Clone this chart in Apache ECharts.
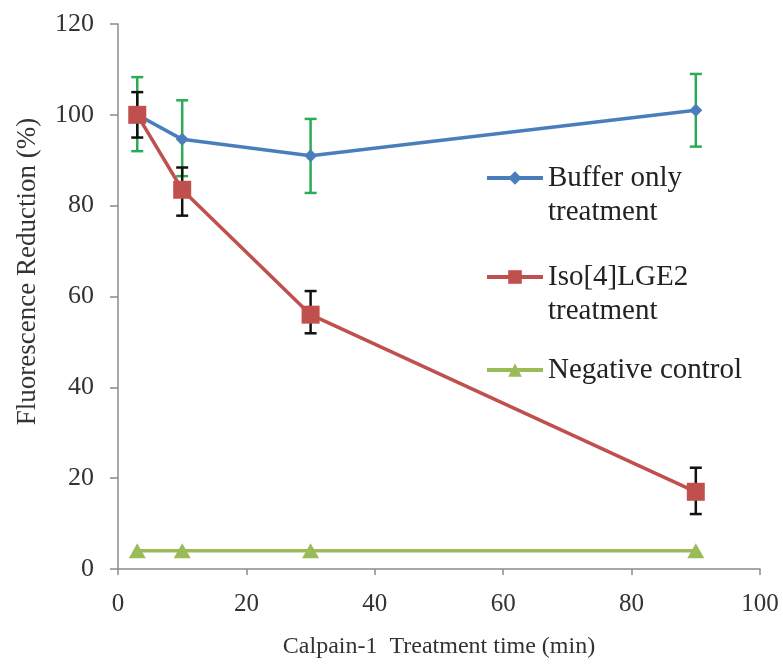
<!DOCTYPE html>
<html><head><meta charset="utf-8">
<script src="https://cdn.jsdelivr.net/npm/echarts@6/dist/echarts.min.js"></script>
<style>html,body{margin:0;padding:0;background:#fff}#c{width:783px;height:664px}</style>
</head><body><div id="c"></div>
<script>
var times = [3, 10, 30, 90];
var bufferVals = [100, 94.6, 91, 101];
var bufferLow = [92, 86.5, 82.8, 93];
var bufferHigh = [108.3, 103.2, 99.1, 109];
var isoVals = [100, 83.5, 56, 17];
var isoLow = [95, 77.8, 51.9, 12.1];
var isoHigh = [105, 88.4, 61.2, 22.3];
var negVals = [4, 4, 4, 4];
var xTicks = [0, 20, 40, 60, 80, 100];
var yTicks = [0, 20, 40, 60, 80, 100, 120];
var names = ['Buffer only treatment', 'Iso[4]LGE2 treatment', 'Negative control'];

function pairs(xs, ys){ return xs.map(function(x,i){return [x, ys[i]];}); }
function errData(xs, lo, hi){ return xs.map(function(x,i){return [x, lo[i], hi[i]];}); }
function errSeries(data, color, z){
  return {
    type:'custom', z:z, silent:true,
    data:data,
    encode:{x:0, y:[1,2]},
    renderItem:function(params, api){
      var x = api.value(0);
      var lo = api.coord([x, api.value(1)]);
      var hi = api.coord([x, api.value(2)]);
      var w = 6;
      var st = {stroke:color, lineWidth:2.5};
      return {type:'group', children:[
        {type:'line', shape:{x1:lo[0], y1:lo[1], x2:hi[0], y2:hi[1]}, style:st},
        {type:'line', shape:{x1:lo[0]-w, y1:lo[1], x2:lo[0]+w, y2:lo[1]}, style:st},
        {type:'line', shape:{x1:hi[0]-w, y1:hi[1], x2:hi[0]+w, y2:hi[1]}, style:st}
      ]};
    }
  };
}
var serif = '"Liberation Serif", "Times New Roman", serif';
var LH = 34;
function legendFor(name, top, twoLine){
  return {
    data:[name], left:485, top:top, orient:'vertical', padding:0,
    itemWidth:56, itemHeight:17, itemGap:0,
    lineStyle:{width:4},
    formatter:function(n){ return twoLine ? '\u00a0\n' + n.replace(' treatment','\ntreatment') : n; },
    textStyle:{fontFamily:serif, fontSize:29, color:'#222', lineHeight:LH}
  };
}
var chart = echarts.init(document.getElementById('c'));
chart.setOption({
  animation:false,
  backgroundColor:'#fff',
  grid:{left:118, right:23, top:24, bottom:92},
  legend:[legendFor(names[0], 127, true), legendFor(names[1], 226, true), legendFor(names[2], 353, false)],
  xAxis:{type:'value', min:0, max:100, interval:20,
    name:'Calpain-1  Treatment time (min)', nameLocation:'middle', nameGap:66,
    nameTextStyle:{fontFamily:serif, fontSize:24, color:'#333'},
    axisLine:{lineStyle:{color:'#8c8c8c', width:1.5}},
    axisTick:{show:true, length:6, lineStyle:{color:'#8c8c8c', width:1.5}},
    axisLabel:{fontFamily:serif, fontSize:25, color:'#333', margin:23},
    splitLine:{show:false}},
  yAxis:{type:'value', min:0, max:120, interval:20,
    name:'Fluorescence Reduction (%)', nameLocation:'middle', nameGap:77,
    nameTextStyle:{fontFamily:serif, fontSize:27, color:'#333', padding:[0,0,0,50]},
    axisLine:{show:true, lineStyle:{color:'#8c8c8c', width:1.5}},
    axisTick:{show:true, length:8, lineStyle:{color:'#8c8c8c', width:1.5}},
    axisLabel:{fontFamily:serif, fontSize:26, color:'#333', margin:24},
    splitLine:{show:false}},
  series:[
    errSeries(errData(times, bufferLow, bufferHigh), '#2bab55', 1),
    errSeries(errData(times, isoLow, isoHigh), '#111', 2),
    {name:names[0], type:'line', data:pairs(times, bufferVals), z:3,
      symbol:'diamond', symbolSize:13, lineStyle:{color:'#4a7ebb', width:3.5},
      itemStyle:{color:'#4a7ebb'}},
    {name:names[1], type:'line', data:pairs(times, isoVals), z:4,
      symbol:'rect', symbolSize:18, lineStyle:{color:'#c0504d', width:3.5},
      itemStyle:{color:'#c0504d'}},
    {name:names[2], type:'line', data:pairs(times, negVals), z:4,
      symbol:'triangle', symbolSize:[17,15], lineStyle:{color:'#9bbb59', width:3.5},
      itemStyle:{color:'#9bbb59'}}
  ]
});
</script></body></html>
